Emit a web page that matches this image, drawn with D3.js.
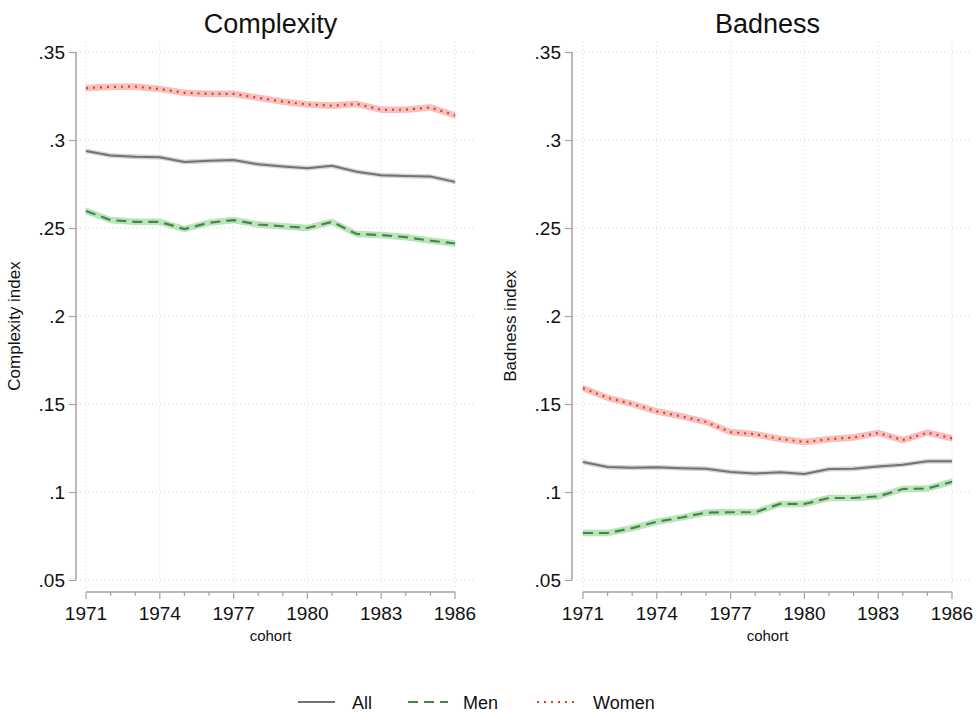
<!DOCTYPE html>
<html>
<head>
<meta charset="utf-8">
<script src="https://cdn.jsdelivr.net/npm/d3@7"></script>
<style>
  body { margin: 0; background: #fff; }
  svg { display: block; font-family: "Liberation Sans", Arial, sans-serif; }
</style>
</head>
<body>
<svg id="chart" width="976" height="714"></svg>
<script>
const years = d3.range(1971, 1987);
const yearTicks = [1971, 1974, 1977, 1980, 1983, 1986];
const yTicks = [0.05, 0.1, 0.15, 0.2, 0.25, 0.3, 0.35];
const yTickLabels = [".05", ".1", ".15", ".2", ".25", ".3", ".35"];

// Complexity index by cohort
const complexityAll = [0.2938, 0.2912, 0.2905, 0.2902, 0.2875, 0.2882, 0.2886, 0.2862, 0.2850, 0.2840, 0.2853, 0.2820, 0.2800, 0.2795, 0.2792, 0.2762];
const complexityMen = [0.2597, 0.2545, 0.2535, 0.2535, 0.2494, 0.2530, 0.2545, 0.2520, 0.2510, 0.2500, 0.2535, 0.2466, 0.2460, 0.2448, 0.2428, 0.2412];
const complexityWomen = [0.3295, 0.3302, 0.3303, 0.3290, 0.3268, 0.3262, 0.3262, 0.3240, 0.3218, 0.3202, 0.3195, 0.3205, 0.3172, 0.3172, 0.3185, 0.3140];

// Badness index by cohort
const badnessAll = [0.1170, 0.1142, 0.1138, 0.1140, 0.1135, 0.1132, 0.1114, 0.1105, 0.1112, 0.1102, 0.1130, 0.1132, 0.1145, 0.1155, 0.1175, 0.1175];
const badnessMen = [0.0767, 0.0767, 0.0795, 0.0831, 0.0855, 0.0883, 0.0885, 0.0885, 0.0932, 0.0932, 0.0966, 0.0966, 0.0975, 0.1017, 0.1020, 0.1058];
const badnessWomen = [0.1590, 0.1535, 0.1500, 0.1458, 0.1430, 0.1398, 0.1340, 0.1328, 0.1302, 0.1284, 0.1300, 0.1310, 0.1335, 0.1295, 0.1337, 0.1305];

// half-width of the confidence band for each group
const ciAll = 0.0011;
const ciMen = 0.0016;
const ciWomen = 0.0016;

const groups = ["All", "Men", "Women"];

const style = {
  All: { line: "#737373", band: "#cfcfcf", dash: null, width: 2 },
  Men: { line: "#3d8a48", band: "#b4deb1", dash: "10,6", width: 2.2 },
  Women: { line: "#e23b2e", band: "#f6b6b2", dash: "2,5", width: 2.2 },
};

const svg = d3.select("#chart");

const panels = [
  {
    title: "Complexity", yLabel: "Complexity index", axisX: 76, x0: 86, x1: 455,
    series: { All: complexityAll, Men: complexityMen, Women: complexityWomen },
  },
  {
    title: "Badness", yLabel: "Badness index", axisX: 572, x0: 583, x1: 952,
    series: { All: badnessAll, Men: badnessMen, Women: badnessWomen },
  },
];

const ci = { All: ciAll, Men: ciMen, Women: ciWomen };

panels.forEach(drawPanel);
drawLegend();

function drawPanel(p) {
  const g = svg.append("g");

  const x = d3.scaleLinear().domain([1971, 1986]).range([p.x0, p.x1]);
  const y = d3.scaleLinear().domain([0.05, 0.35]).range([580, 52]);

  const gridLeft = p.axisX + 4;
  const gridRight = p.x1 + 18;

  // grid
  g.selectAll(".hgrid")
    .data(yTicks)
    .join("line")
    .attr("x1", gridLeft)
    .attr("x2", gridRight)
    .attr("y1", (d) => y(d))
    .attr("y2", (d) => y(d))
    .attr("stroke", "#d6d6d6")
    .attr("stroke-width", 1)
    .attr("stroke-dasharray", "1,3");

  g.selectAll(".vgrid")
    .data(yearTicks)
    .join("line")
    .attr("x1", (d) => x(d))
    .attr("x2", (d) => x(d))
    .attr("y1", 42)
    .attr("y2", 588)
    .attr("stroke", "#d6d6d6")
    .attr("stroke-width", 1)
    .attr("stroke-dasharray", "1,3");

  // y axis
  const yAxis = d3.axisLeft(y)
    .tickValues(yTicks)
    .tickFormat((d, i) => yTickLabels[i])
    .tickSize(7)
    .tickPadding(4);

  const ya = g.append("g")
    .attr("transform", `translate(${p.axisX},0)`)
    .call(yAxis);
  ya.select(".domain").attr("stroke", "#a8a19c").attr("stroke-width", 1.5).attr("d", `M0,${y(0.35)}V${y(0.05)}`);
  ya.selectAll(".tick line").attr("stroke", "#a8a19c").attr("stroke-width", 1.2);
  ya.selectAll(".tick text").attr("font-size", 19).attr("fill", "#111").attr("font-family", "Liberation Sans, Arial, sans-serif");

  // x axis (minor ticks every year, labels every three)
  const xAxisY = 592;
  const xa = g.append("g").attr("transform", `translate(0,${xAxisY})`);
  xa.append("line")
    .attr("x1", x(1971)).attr("x2", x(1986))
    .attr("stroke", "#a8a19c").attr("stroke-width", 1.5);
  xa.selectAll(".minor")
    .data(years.filter((d) => !yearTicks.includes(d)))
    .join("line")
    .attr("x1", (d) => x(d)).attr("x2", (d) => x(d))
    .attr("y1", 0).attr("y2", 4)
    .attr("stroke", "#a8a19c").attr("stroke-width", 1.2);
  xa.selectAll(".major")
    .data(yearTicks)
    .join("line")
    .attr("x1", (d) => x(d)).attr("x2", (d) => x(d))
    .attr("y1", 0).attr("y2", 7)
    .attr("stroke", "#a8a19c").attr("stroke-width", 1.2);
  xa.selectAll(".lab")
    .data(yearTicks)
    .join("text")
    .attr("x", (d) => x(d))
    .attr("y", 28)
    .attr("text-anchor", "middle")
    .attr("font-size", 19)
    .attr("fill", "#111")
    .text((d) => d);

  g.append("text")
    .attr("x", (p.x0 + p.x1) / 2)
    .attr("y", 641)
    .attr("text-anchor", "middle")
    .attr("font-size", 15)
    .attr("fill", "#111")
    .text("cohort");

  // y label
  g.append("text")
    .attr("transform", `translate(${p.axisX - 56},${(y(0.35) + y(0.05)) / 2 + 10}) rotate(-90)`)
    .attr("text-anchor", "middle")
    .attr("font-size", 17)
    .attr("fill", "#111")
    .text(p.yLabel);

  // title
  g.append("text")
    .attr("x", (p.x0 + p.x1) / 2)
    .attr("y", 33)
    .attr("text-anchor", "middle")
    .attr("font-size", 27)
    .attr("fill", "#111")
    .text(p.title);

  // bands then lines
  groups.forEach((grp) => {
    const vals = p.series[grp];
    const h = ci[grp];
    const area = d3.area()
      .x((d, i) => x(years[i]))
      .y0((d) => y(d - h))
      .y1((d) => y(d + h));
    g.append("path")
      .attr("d", area(vals))
      .attr("fill", style[grp].band)
      .attr("fill-opacity", 0.85)
      .attr("stroke", style[grp].band)
      .attr("stroke-width", 0.8);
  });

  groups.forEach((grp) => {
    const vals = p.series[grp];
    const line = d3.line().x((d, i) => x(years[i])).y((d) => y(d));
    g.append("path")
      .attr("d", line(vals))
      .attr("fill", "none")
      .attr("stroke", style[grp].line)
      .attr("stroke-width", style[grp].width)
      .attr("stroke-dasharray", style[grp].dash);
  });
}

function drawLegend() {
  const items = [
    { key: "All", x1: 298, x2: 335, tx: 352 },
    { key: "Men", x1: 408, x2: 448, tx: 463 },
    { key: "Women", x1: 537, x2: 578, tx: 593 },
  ];
  const ly = 702;
  const lg = svg.append("g");
  lg.selectAll("line")
    .data(items)
    .join("line")
    .attr("x1", (d) => d.x1)
    .attr("x2", (d) => d.x2)
    .attr("y1", ly)
    .attr("y2", ly)
    .attr("stroke", (d) => style[d.key].line)
    .attr("stroke-width", (d) => style[d.key].width)
    .attr("stroke-dasharray", (d) => style[d.key].dash);
  lg.selectAll("text")
    .data(items)
    .join("text")
    .attr("x", (d) => d.tx)
    .attr("y", ly + 7)
    .attr("font-size", 18)
    .attr("fill", "#111")
    .text((d) => d.key);
}
</script>
</body>
</html>
